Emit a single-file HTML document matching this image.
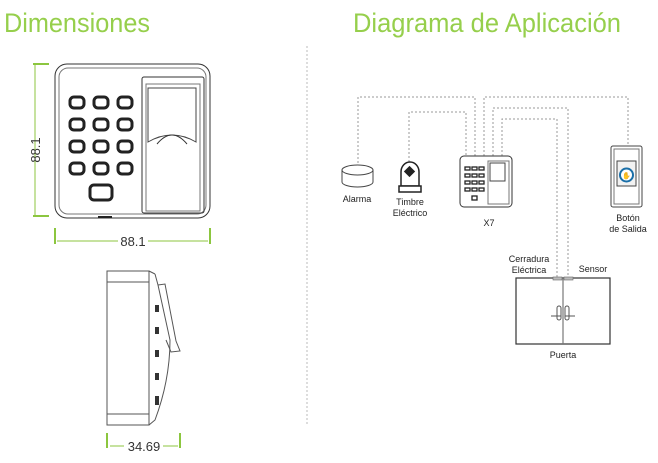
<!DOCTYPE html>
<html><head><meta charset="utf-8"><style>
html,body{margin:0;padding:0;background:#fff;}
svg{display:block;}
text{font-family:"Liberation Sans",sans-serif;}
</style></head><body>
<svg width="658" height="463" viewBox="0 0 658 463" xmlns="http://www.w3.org/2000/svg">
<text x="4" y="32" font-size="27" fill="#96cf4c" textLength="146" lengthAdjust="spacingAndGlyphs">Dimensiones</text>
<text x="353" y="32" font-size="27" fill="#96cf4c" textLength="268" lengthAdjust="spacingAndGlyphs">Diagrama de Aplicación</text>
<line x1="307" y1="46" x2="307" y2="426" stroke="#bbb" stroke-width="1" stroke-dasharray="2,2"/>

<g stroke="#8cc63f" stroke-width="2" fill="none">
<line x1="33" y1="64" x2="49" y2="64"/><line x1="33" y1="216" x2="49" y2="216"/>
<line x1="35" y1="64" x2="35" y2="216" stroke-width="1"/>
<line x1="55" y1="228" x2="55" y2="244"/><line x1="210" y1="228" x2="210" y2="244"/>
<line x1="57" y1="241" x2="118" y2="241" stroke-width="1"/><line x1="148" y1="241" x2="208" y2="241" stroke-width="1"/>
<line x1="107" y1="433" x2="107" y2="448"/><line x1="180" y1="433" x2="180" y2="448"/>
<line x1="110" y1="446" x2="124" y2="446" stroke-width="1"/><line x1="163" y1="446" x2="178" y2="446" stroke-width="1"/>
</g>
<text x="40" y="150" font-size="13" fill="#333" transform="rotate(-90 40 150)" text-anchor="middle">88.1</text>
<text x="133" y="246" font-size="13" fill="#333" text-anchor="middle">88.1</text>
<text x="144" y="451" font-size="13" fill="#333" text-anchor="middle">34.69</text>

<g fill="none" stroke="#333" stroke-width="1">
<rect x="55" y="64" width="155" height="154" rx="12"/>
<rect x="59" y="68" width="147" height="146" rx="9" stroke="#777"/>
<rect x="142" y="77" width="62" height="136" rx="2"/>
<rect x="146" y="84" width="54" height="127" stroke="#777"/>
<path d="M148 88 L196 88 L196 142 Q172 128 148 142 Z" stroke="#444"/>
<path d="M157 144 Q172 126 187 144" />
</g>
<g fill="#fff" stroke="#222" stroke-width="3">
<rect x="70" y="97" width="14" height="11" rx="4"/><rect x="94" y="97" width="14" height="11" rx="4"/><rect x="118" y="97" width="14" height="11" rx="4"/>
<rect x="70" y="119" width="14" height="11" rx="4"/><rect x="94" y="119" width="14" height="11" rx="4"/><rect x="118" y="119" width="14" height="11" rx="4"/>
<rect x="70" y="141" width="14" height="11" rx="4"/><rect x="94" y="141" width="14" height="11" rx="4"/><rect x="118" y="141" width="14" height="11" rx="4"/>
<rect x="70" y="163" width="14" height="11" rx="4"/><rect x="94" y="163" width="14" height="11" rx="4"/><rect x="118" y="163" width="14" height="11" rx="4"/>
<rect x="90" y="185" width="22" height="15" rx="4"/>
</g>
<line x1="98" y1="217" x2="112" y2="217" stroke="#222" stroke-width="2"/>

<g fill="none" stroke="#555" stroke-width="1">
<rect x="107" y="271" width="42" height="154"/>
<line x1="107" y1="282" x2="149" y2="282"/><line x1="107" y1="414" x2="149" y2="414"/>
<line x1="149" y1="271" x2="155" y2="274"/><path d="M149 425 L155 420 Q170 380 170 340 L158 285 L155 274"/>
<path d="M158 285 L165 284 L176 341 L180 351 L171 352 L166 340"/>
</g>
<g fill="#333"><rect x="155" y="305" width="4" height="7"/><rect x="155" y="327" width="4" height="7"/><rect x="155" y="350" width="4" height="7"/><rect x="155" y="373" width="4" height="7"/><rect x="155" y="396" width="4" height="9"/></g>

<g fill="none" stroke="#999" stroke-width="1" stroke-dasharray="2,2">
<path d="M358 163 V97 H475 V156"/>
<path d="M409 162 V112 H466 V156"/>
<path d="M484 156 V97 H628 V146"/>
<path d="M493 156 V108 H568 V277"/>
<path d="M502 156 V119 H557 V277"/>
</g>

<g fill="#fff" stroke="#444">
<path d="M342 170 V182 A15.5 5 0 0 0 373 182 V170"/>
<ellipse cx="357.5" cy="170" rx="15.5" ry="5"/>
</g>
<text x="357" y="202" font-size="9" fill="#222" text-anchor="middle">Alarma</text>
<g stroke="#222" fill="#fff">
<path d="M401 186 V172 A9 10 0 0 1 419 172 V186 Z" stroke-width="1.5"/>
<rect x="399" y="186" width="22" height="6" stroke-width="1.5"/>
<rect x="406" y="168" width="7" height="7" fill="#222" transform="rotate(45 409.5 171.5)"/>
</g>
<text x="410" y="205" font-size="9" fill="#222" text-anchor="middle">Timbre</text>
<text x="410" y="216" font-size="9" fill="#222" text-anchor="middle">Eléctrico</text>
<g fill="none" stroke="#333">
<rect x="460" y="156" width="52" height="51" rx="4"/>
<rect x="488" y="161" width="21" height="43" stroke="#777"/>
<rect x="490" y="163" width="15" height="18" stroke="#444"/>
</g>
<g fill="none" stroke="#222" stroke-width="1.3">
<rect x="465" y="167" width="5" height="3"/><rect x="472" y="167" width="5" height="3"/><rect x="479" y="167" width="5" height="3"/>
<rect x="465" y="174" width="5" height="3"/><rect x="472" y="174" width="5" height="3"/><rect x="479" y="174" width="5" height="3"/>
<rect x="465" y="181" width="5" height="3"/><rect x="472" y="181" width="5" height="3"/><rect x="479" y="181" width="5" height="3"/>
<rect x="465" y="188" width="5" height="3"/><rect x="472" y="188" width="5" height="3"/><rect x="479" y="188" width="5" height="3"/>
<rect x="472" y="196" width="5" height="4"/>
</g>
<text x="489" y="226" font-size="9" fill="#222" text-anchor="middle">X7</text>
<g fill="none" stroke="#444">
<rect x="611" y="146" width="31" height="61" rx="2"/>
<rect x="614" y="149" width="25" height="55" stroke="#777"/>
<rect x="617" y="161" width="19" height="25" fill="#f2f2f2"/>
</g>
<circle cx="626.5" cy="175" r="6.5" fill="#fff" stroke="#1a6fa8" stroke-width="2"/>
<text x="626.5" y="178" font-size="7" fill="#333" text-anchor="middle">✋</text>
<text x="628" y="221" font-size="9" fill="#222" text-anchor="middle">Botón</text>
<text x="628" y="232" font-size="9" fill="#222" text-anchor="middle">de Salida</text>
<rect x="516" y="278" width="94" height="66" fill="#fff" stroke="#333" stroke-width="1.2"/>
<line x1="563" y1="278" x2="563" y2="344" stroke="#777" stroke-width="1.2"/>
<rect x="553" y="277" width="9" height="3" fill="#bbb" stroke="#666" stroke-width="0.6"/>
<rect x="564" y="277" width="9" height="3" fill="#bbb" stroke="#666" stroke-width="0.6"/>
<g fill="none" stroke="#555">
<rect x="557" y="306" width="4" height="14" rx="2"/><rect x="565" y="306" width="4" height="14" rx="2"/>
<line x1="551" y1="316" x2="561" y2="316"/><line x1="565" y1="316" x2="575" y2="316"/>
</g>
<text x="529" y="262" font-size="9" fill="#222" text-anchor="middle">Cerradura</text>
<text x="529" y="273" font-size="9" fill="#222" text-anchor="middle">Eléctrica</text>
<text x="593" y="272" font-size="9" fill="#222" text-anchor="middle">Sensor</text>
<text x="563" y="358" font-size="9" fill="#222" text-anchor="middle">Puerta</text>
</svg>
</body></html>
